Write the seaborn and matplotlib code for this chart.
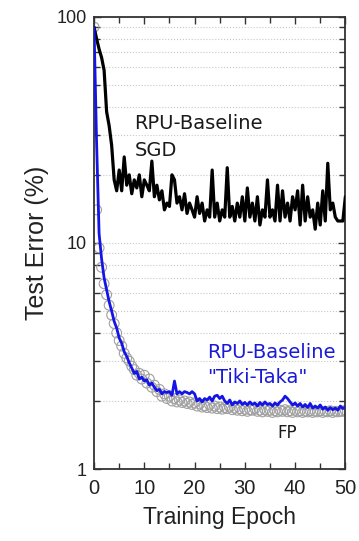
import numpy as np
import pandas as pd
import matplotlib
matplotlib.use('Agg')
import matplotlib.pyplot as plt
import seaborn as sns
from matplotlib.ticker import LogLocator, FixedLocator, NullFormatter

# half-epoch sampling, 0..50
epoch = np.arange(0, 50.5, 0.5)

sgd = [90, 80, 72, 66, 58, 38, 33, 27, 19, 17,
       21, 17, 24, 18, 20, 16.5, 19, 17.5, 20, 16,
       19, 18, 17, 23, 16, 18, 15.5, 17, 14, 15,
       14.5, 20, 19, 15, 16, 14, 16.5, 13.5, 15, 14,
       13, 16, 13.5, 15, 12.5, 14, 13, 21, 13, 15,
       12.5, 14, 13, 21.5, 13, 14.5, 12.5, 15, 13, 16,
       12.5, 17.5, 13, 15, 12.5, 16, 12, 14, 13, 19,
       13, 14, 12.5, 18, 12.5, 17, 13, 15, 12.5, 16,
       14, 17, 12, 18, 12.5, 16, 13, 14, 11.5, 15,
       12, 17, 12.5, 22.5, 14, 15, 13, 12.5, 12.5, 12.5,
       16]

tiki_taka = [90, 28, 11, 8.5, 7.0, 6.2, 5.5, 5.0, 4.5, 4.2,
             3.8, 3.6, 3.3, 3.15, 2.95, 2.8, 2.65, 2.7, 2.5, 2.55,
             2.45, 2.48, 2.35, 2.4, 2.3, 2.22, 2.25, 2.15, 2.2, 2.18,
             2.2, 2.12, 2.45, 2.15, 2.2, 2.15, 2.2, 2.18, 2.15, 2.2,
             2.15, 2.0, 2.05, 1.98, 2.05, 2.02, 2.08, 2.0, 2.1, 2.12,
             2.05, 2.1, 2.0, 1.95, 2.02, 1.92, 1.98, 1.95, 2.0, 1.93,
             1.97, 1.92, 1.98, 1.93, 1.96, 1.9, 1.97, 1.92, 1.98, 1.93,
             1.95, 1.9, 1.96, 1.92, 1.98, 2.02, 2.1, 2.05, 1.98, 1.92,
             1.96, 1.9, 1.95, 1.88, 1.93, 1.87, 1.95, 1.86, 1.9, 1.86,
             1.92, 1.84, 1.88, 1.82, 1.87, 1.83, 1.86, 1.82, 1.9, 1.85,
             1.88]

fp = [90, 14, 9.5, 7.8, 6.6, 5.9, 5.3, 4.8, 4.4, 4.0,
      3.7, 3.5, 3.25, 3.1, 3.0, 2.85, 2.75, 2.6, 2.65, 2.5,
      2.6, 2.4, 2.5, 2.3, 2.35, 2.2, 2.25, 2.1, 2.15, 2.05,
      2.1, 2.0, 2.05, 1.98, 2.02, 1.97, 2.0, 1.95, 1.98, 1.93,
      1.96, 1.9, 1.94, 1.88, 1.9, 1.87, 1.92, 1.86, 1.9, 1.85,
      1.88, 1.84, 1.87, 1.85, 1.88, 1.83, 1.86, 1.82, 1.85, 1.81,
      1.84, 1.8, 1.83, 1.82, 1.85, 1.8, 1.82, 1.79, 1.83, 1.8,
      1.82, 1.78, 1.81, 1.79, 1.82, 1.8, 1.83, 1.79, 1.81, 1.78,
      1.82, 1.79, 1.81, 1.78, 1.8, 1.79, 1.81, 1.78, 1.8, 1.79,
      1.81, 1.78, 1.8, 1.79, 1.81, 1.78, 1.8, 1.79, 1.8, 1.8,
      1.82]

df = pd.DataFrame({'epoch': epoch, 'sgd': sgd, 'tiki': tiki_taka, 'fp': fp})

sns.set_theme(style='ticks')
plt.rcParams['font.family'] = ['Liberation Sans', 'DejaVu Sans']

fig = plt.figure(figsize=(3.59, 5.41), dpi=100)
ax = fig.add_axes([0.262, 0.133, 0.700, 0.836])
ax.set_yscale('log')

sns.scatterplot(data=df, x='epoch', y='fp', ax=ax, marker='o', s=50,
                facecolors='none', edgecolor='#a0a0a0', linewidth=0.8, zorder=2)
sns.lineplot(data=df, x='epoch', y='sgd', ax=ax, color='black', lw=2.3, zorder=3)
sns.lineplot(data=df, x='epoch', y='tiki', ax=ax, color='#1414e6', lw=2.0, zorder=4)

ax.set_xlim(0, 50)
ax.set_ylim(1, 100)
ax.set_xticks([0, 10, 20, 30, 40, 50])
ax.xaxis.set_minor_locator(FixedLocator([5, 15, 25, 35, 45]))
ax.set_yticks([1, 10, 100])
ax.set_yticklabels(['1', '10', '100'])
ax.yaxis.set_minor_locator(LogLocator(base=10, subs=np.arange(2, 10)))
ax.yaxis.set_minor_formatter(NullFormatter())

ax.tick_params(which='both', direction='in', top=True, right=True,
               color='#333333', width=1.0)
ax.tick_params(which='major', length=5)
ax.tick_params(which='minor', length=4)
ax.tick_params(axis='x', labelsize=14.5, pad=7, colors='#222222')
ax.tick_params(axis='y', labelsize=13, pad=5, colors='#222222')
ax.tick_params(axis='both', which='both', color='#333333')

ax.grid(axis='y', which='both', color='#c8c8c8', linestyle=':', linewidth=0.8)
for sp in ax.spines.values():
    sp.set_linewidth(1.3)
    sp.set_color('#333333')

ax.set_xlabel('Training Epoch', fontsize=16.5, color='#222222', labelpad=6)
ax.set_ylabel('Test Error (%)', fontsize=18, color='#222222', labelpad=6)

ax.text(8.0, 33.6, 'RPU-Baseline', fontsize=14, family='DejaVu Sans',
        color='#1a1a1a', va='center', ha='left')
ax.text(8.0, 25.5, 'SGD', fontsize=14, family='DejaVu Sans',
        color='#1a1a1a', va='center', ha='left')
ax.text(22.4, 3.29, 'RPU-Baseline', fontsize=14, family='DejaVu Sans',
        color='#1a1ad6', va='center', ha='left')
ax.text(22.4, 2.55, '"Tiki-Taka"', fontsize=14, family='DejaVu Sans',
        color='#1a1ad6', va='center', ha='left')
ax.text(36.5, 1.44, 'FP', fontsize=12, family='DejaVu Sans',
        color='#1a1a1a', va='center', ha='left')

fig.savefig('out.png', dpi=100)
